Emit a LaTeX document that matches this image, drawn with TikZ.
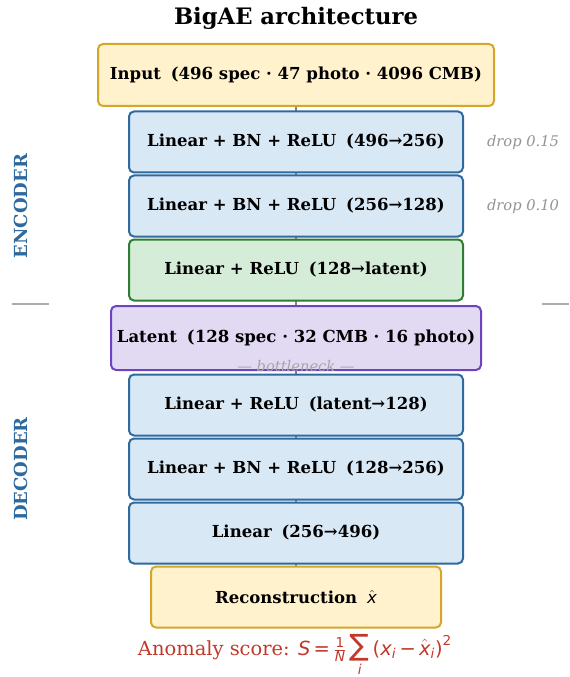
\documentclass[tikz,border=0pt]{standalone}
\usepackage{amsmath}
\usepackage{fontspec}
\setmainfont{DejaVu Serif}
\newfontfamily\dvsans{DejaVu Sans}
\usetikzlibrary{arrows.meta,backgrounds}
\definecolor{encblue}{HTML}{2F6A9F}
\definecolor{layerfill}{HTML}{D8E8F5}
\definecolor{inpfill}{HTML}{FFF2CC}
\definecolor{inpdraw}{HTML}{D4A62A}
\definecolor{grnfill}{HTML}{D5ECD9}
\definecolor{grndraw}{HTML}{2E7D32}
\definecolor{latfill}{HTML}{E2D9F3}
\definecolor{latdraw}{HTML}{6F42C1}
\definecolor{scorered}{HTML}{C0392B}
\newcommand{\dvi}[1]{\text{\dvsans\mdseries\itshape #1}}
\newcommand{\dvu}[1]{\text{\dvsans\mdseries #1}}
\newcommand{\gap}{\hspace{0.6em}}

\begin{document}
\begin{tikzpicture}[x=0.75pt,y=-0.75pt,
    block/.style={draw,rounded corners=3.75pt,line width=1.5pt,inner sep=0pt,
        font=\bfseries\fontsize{12.4}{14}\selectfont},
    layer/.style={block,fill=layerfill,draw=encblue,
        minimum width=250.5pt,minimum height=45.75pt},
    conn/.style={draw=gray,line width=1.5pt,-{Stealth[length=4pt]}},
    droplab/.style={font=\itshape\fontsize{11}{13}\selectfont,text=gray!85},
    sidelab/.style={rotate=90,text=encblue,font=\bfseries\fontsize{13.5}{16}\selectfont}]
    \useasboundingbox (0,0) rectangle (570,677);

    \node[font=\bfseries\fontsize{17}{20}\selectfont] (title) at (296,18)
        {BigAE architecture};

    % encoder
    \node[block,fill=inpfill,draw=inpdraw,minimum width=297pt,
        minimum height=46.5pt] (inp) at (296,75)
        {Input\gap(496 spec · 47 photo · 4096 CMB)};
    \node[layer] (enc1) at (296,142) {Linear + BN + ReLU\gap(496→256)};
    \node[layer] (enc2) at (296,206) {Linear + BN + ReLU\gap(256→128)};
    \node[layer,fill=grnfill,draw=grndraw] (enc3) at (296,270)
        {Linear + ReLU\gap(128→latent)};
    \node[droplab] (drop1) at (523,142) {drop 0.15};
    \node[droplab] (drop2) at (523,206) {drop 0.10};

    % bottleneck
    \node[block,fill=latfill,draw=latdraw,minimum width=277.5pt,
        minimum height=48pt] (lat) at (296,338)
        {Latent\gap(128 spec · 32 CMB · 16 photo)};
    \node[droplab,text=gray!70] (bneck) at (296,366) {— bottleneck —};
    \draw[gray!65,line width=1.1pt] (12,304) coordinate (sepL1) -- (49,304) coordinate (sepL2);
    \draw[gray!65,line width=1.1pt] (542,304) coordinate (sepR1) -- (569,304) coordinate (sepR2);

    % decoder
    \node[layer] (dec1) at (296,405) {Linear + ReLU\gap(latent→128)};
    \node[layer] (dec2) at (296,469) {Linear + BN + ReLU\gap(128→256)};
    \node[layer] (dec3) at (296,533) {Linear\gap(256→496)};
    \node[block,fill=inpfill,draw=inpdraw,minimum width=217.5pt,
        minimum height=45.75pt] (rec) at (296,597)
        {Reconstruction\gap$\hat{\dvi{x}}$};

    \node[sidelab] (enclab) at (21,206) {ENCODER};
    \node[sidelab] (declab) at (21,469) {DECODER};

    \node[text=scorered,font=\fontsize{14.6}{17}\selectfont] (score) at (295,655)
        {Anomaly score: $\dvi{S}\dvu{\,=\,}\tfrac{\dvu{1}}{\dvi{N}}%
        \mathop{\dvu{\fontsize{22}{22}\selectfont ∑}}\limits_{\dvi{i}}%
        \dvu{(}\dvi{x}_{\dvi{i}}\dvu{\,−\,}\hat{\dvi{x}}_{\dvi{i}}\dvu{)}^{\dvu{2}}$};

    \begin{scope}[on background layer]
        \foreach \a/\b in {inp/enc1,enc1/enc2,enc2/enc3,enc3/lat,lat/dec1,
            dec1/dec2,dec2/dec3,dec3/rec}
            \draw[conn] (\a.center) -- (\b.center);
    \end{scope}
\end{tikzpicture}
\end{document}
